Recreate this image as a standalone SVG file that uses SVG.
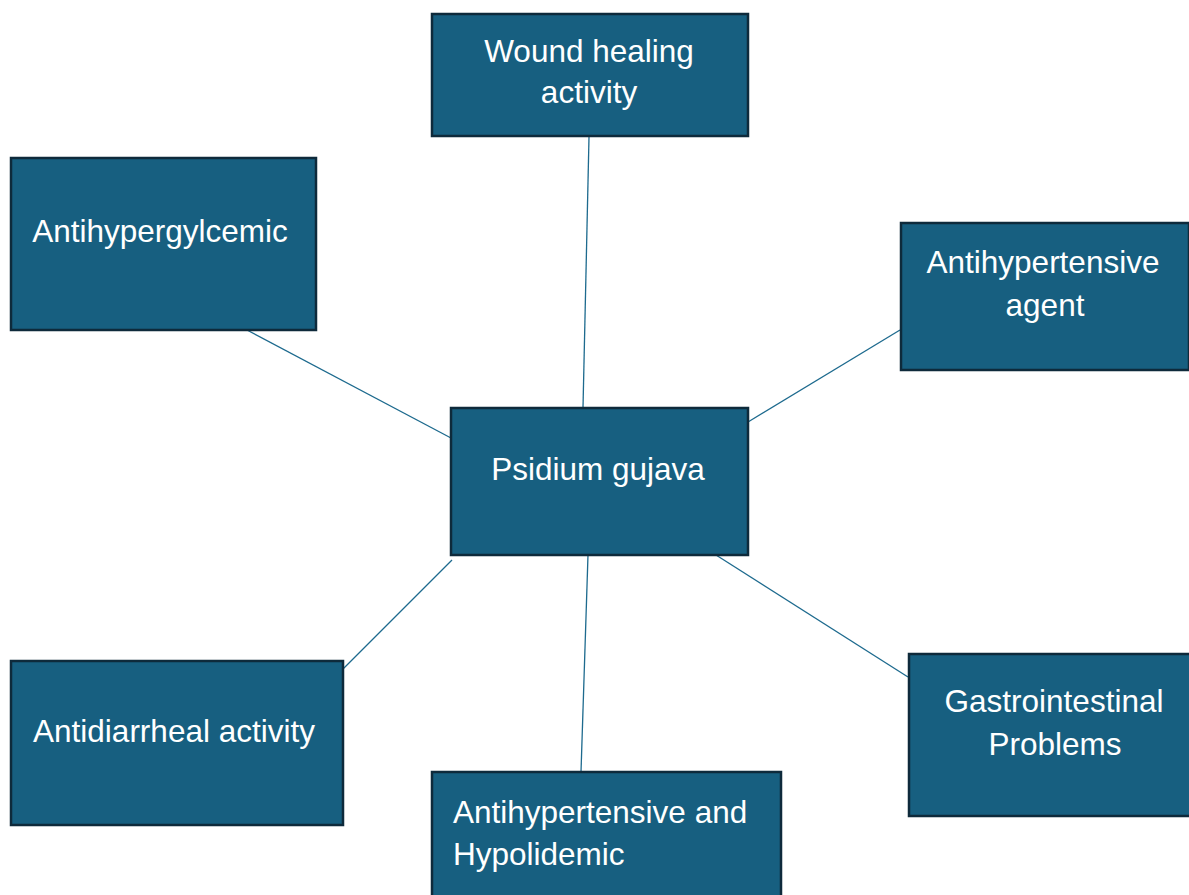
<svg xmlns="http://www.w3.org/2000/svg" width="1189" height="895" viewBox="0 0 1189 895">
<style>
.box{fill:#175F80;stroke:#0E2A3B;stroke-width:2.5}
.lbl{font-family:"Liberation Sans",Arial,sans-serif;font-size:31.5px;fill:#FFFFFF}
.c{text-anchor:middle}
.conn line{stroke:#1D6A8E;stroke-width:1.3}
</style>
<rect width="1189" height="895" fill="#FFFFFF"/>
<g id="connectors" class="conn">
<line x1="589" y1="137" x2="583" y2="408"/>
<line x1="247" y1="330" x2="451" y2="438"/>
<line x1="900" y1="330" x2="748" y2="422"/>
<line x1="343" y1="669" x2="452" y2="560"/>
<line x1="588" y1="555" x2="581" y2="772"/>
<line x1="716" y1="555" x2="908" y2="677"/>
</g>
<g id="node-wound">
<rect class="box" x="432" y="14" width="316" height="122"/>
<text class="lbl c" x="589" y="62">Wound healing</text>
<text class="lbl c" x="589" y="103">activity</text>
</g>
<g id="node-antihyperglycemic">
<rect class="box" x="11" y="158" width="305" height="172"/>
<text class="lbl c" x="160" y="242">Antihypergylcemic</text>
</g>
<g id="node-antihypertensive-agent">
<rect class="box" x="901" y="223" width="288" height="147"/>
<text class="lbl c" x="1043" y="273">Antihypertensive</text>
<text class="lbl c" x="1045" y="316">agent</text>
</g>
<g id="node-psidium">
<rect class="box" x="451" y="408" width="297" height="147"/>
<text class="lbl c" x="598" y="480">Psidium gujava</text>
</g>
<g id="node-antidiarrheal">
<rect class="box" x="11" y="661" width="332" height="164"/>
<text class="lbl c" x="174" y="742">Antidiarrheal activity</text>
</g>
<g id="node-antihypertensive-hypolidemic">
<rect class="box" x="432" y="772" width="349" height="130"/>
<text class="lbl" x="453" y="823">Antihypertensive and</text>
<text class="lbl" x="453" y="865">Hypolidemic</text>
</g>
<g id="node-gastro">
<rect class="box" x="909" y="654" width="285" height="162"/>
<text class="lbl c" x="1054" y="712">Gastrointestinal</text>
<text class="lbl c" x="1055" y="755">Problems</text>
</g>
</svg>
